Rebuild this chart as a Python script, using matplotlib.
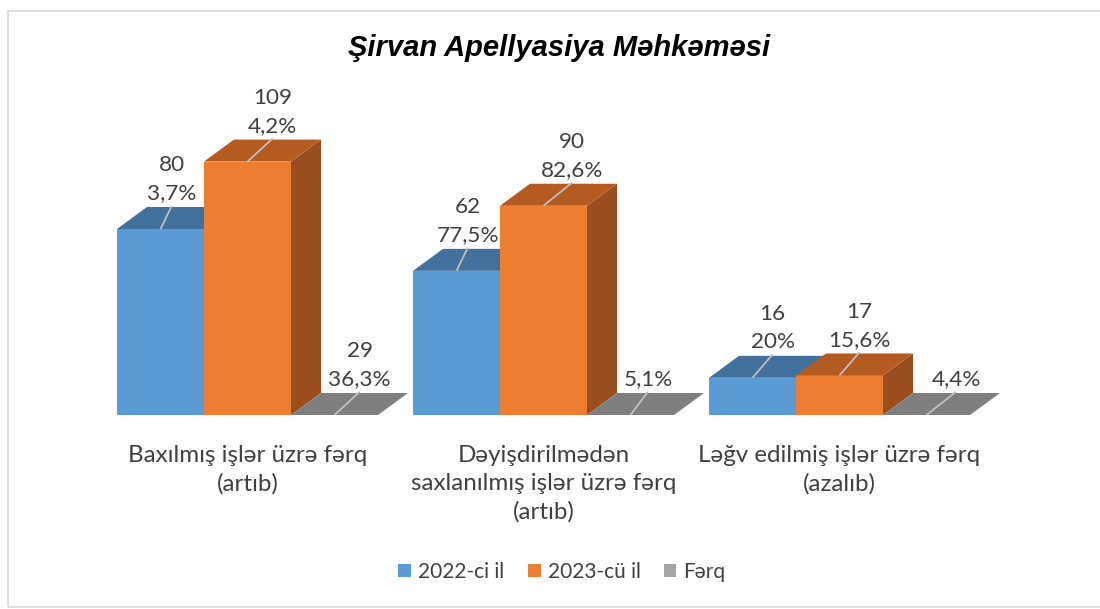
import matplotlib
matplotlib.use("Agg")
import matplotlib.pyplot as plt
from matplotlib.patches import Polygon, Patch, Rectangle

# data
categories = ["Baxılmış işlər üzrə fərq\n(artıb)",
              "Dəyişdirilmədən\nsaxlanılmış işlər üzrə fərq\n(artıb)",
              "Ləğv edilmiş işlər üzrə fərq\n(azalıb)"]
series_names = ["2022-ci il", "2023-cü il", "Fərq"]
y2022 = [80, 62, 16]
y2023 = [109, 90, 17]
ydiff = [0, 0, 0]  # drawn as flat plates in the original
lab2022 = ["80\n3,7%", "62\n77,5%", "16\n20%"]
lab2023 = ["109\n4,2%", "90\n82,6%", "17\n15,6%"]
labdiff = ["29\n36,3%", "5,1%", "4,4%"]

# label x shift from front centre (bar widths), per series
shift2022 = [0.13, 0.13, 0.23]
shift2023 = [0.29, 0.33, 0.23]
shiftdiff = [0.29, 0.20, 0.34]

plt.rcParams['font.family'] = ['Lato', 'DejaVu Sans']
txt = '#404040'
fs_lab = 16.2
fs_cat = 17.4

W, H = 1100, 609
fig = plt.figure(figsize=(W / 100, H / 100), dpi=100)
ppu = 2.325  # pixels per value unit
bw = 87.0    # pixels per bar width
ymax = 150
ax = fig.add_axes([0, 194 / H, 1, ymax * ppu / H])
ax.set_xlim(-117 / bw, (W - 117) / bw)
ax.set_ylim(0, ymax)
ax.axis('off')

dx = 30 / bw
dy = 22 / ppu
step = 296 / bw

front = ['#5B9BD5', '#ED7D31', '#7F7F7F']
top = ['#41719C', '#B45B22', '#7F7F7F']
side = ['#3E6B96', '#9A4D1E', '#6F6F6F']
legend_col = ['#5B9BD5', '#ED7D31', '#A5A5A5']


def bar3d(x, h, k):
    if h > 0:
        ax.add_patch(Polygon([(x, 0), (x + 1, 0), (x + 1, h), (x, h)],
                             closed=True, fc=front[k], ec='none'))
        ax.add_patch(Polygon([(x + 1, 0), (x + 1 + dx, dy), (x + 1 + dx, h + dy), (x + 1, h)],
                             closed=True, fc=side[k], ec='none'))
    ax.add_patch(Polygon([(x, h), (x + 1, h), (x + 1 + dx, h + dy), (x + dx, h + dy)],
                         closed=True, fc=top[k], ec='none'))


def label(x, h, s, text):
    xc = x + 0.5
    lead = 10
    ax.plot([xc, xc + s], [h, h + lead], color='#BFBFBF', lw=1.3, solid_capstyle='butt')
    ax.text(xc + s, h + lead + 1.0, text, ha='center', va='bottom',
            fontsize=fs_lab, color=txt, linespacing=1.5)


for i in range(len(categories)):
    x0 = i * step
    vals = [y2022[i], y2023[i], ydiff[i]]
    for k in range(3):
        bar3d(x0 + k, vals[k], k)
    label(x0, y2022[i], shift2022[i], lab2022[i])
    label(x0 + 1, y2023[i], shift2023[i], lab2023[i])
    label(x0 + 2, ydiff[i], shiftdiff[i], labdiff[i])
    ax.text(x0 + 1.5, -13, categories[i], ha='center', va='top',
            fontsize=fs_cat, color=txt, linespacing=1.4)

fig.text(0.508, 1 - 48 / H, "Şirvan Apellyasiya Məhkəməsi", ha='center', va='center',
         fontsize=21, fontweight='bold', fontstyle='italic', family='Liberation Sans',
         color='black')

handles = [Patch(fc=legend_col[k], ec='none', label=series_names[k]) for k in range(3)]
fig.legend(handles=handles, loc='center', bbox_to_anchor=(0.511, 1 - 572 / H), ncol=3,
           frameon=False, handlelength=0.62, handleheight=0.62, handletextpad=0.34,
           columnspacing=1.1, prop={'size': 15}, labelcolor=txt)

fig.patches.append(Rectangle((8 / W, 2 / H), 1.2, 1 - 13 / H, transform=fig.transFigure,
                             fill=False, ec='#D9D9D9', lw=1.2))

fig.savefig('out.png', dpi=100)
